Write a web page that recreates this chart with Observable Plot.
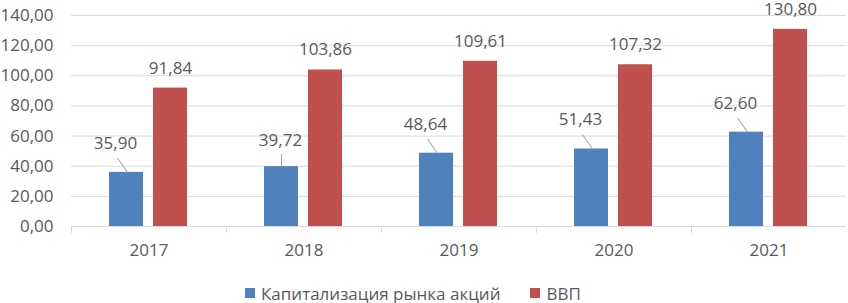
<!DOCTYPE html>
<html>
<head>
<meta charset="utf-8">
<script src="https://cdn.jsdelivr.net/npm/d3@7"></script>
<script src="https://cdn.jsdelivr.net/npm/@observablehq/plot@0.6"></script>
<style>
  html, body { margin: 0; padding: 0; background: #fff; }
  #chart { width: 848px; }
  .legend { display: flex; align-items: center; height: 24px; margin-top: 1px; padding-left: 245px;
            font-family: "Open Sans", sans-serif; font-size: 17px; color: #595959; }
  .legend .item { display: flex; align-items: center; margin-right: 30px; }
  .legend .sw { width: 10px; height: 10px; margin-right: 6px; }
</style>
</head>
<body>
<div id="chart"></div>
<script>
const years = ["2017", "2018", "2019", "2020", "2021"];
const capitalization = [35.90, 39.72, 48.64, 51.43, 62.60];
const gdp = [91.84, 103.86, 109.61, 107.32, 130.80];
const seriesNames = ["Капитализация рынка акций", "ВВП"];
const seriesColors = ["#4f81bd", "#c0504d"];
const yTicks = [0, 20, 40, 60, 80, 100, 120, 140];

const fmt = v => v.toFixed(2).replace(".", ",");

const data = years.flatMap((y, i) => [
  {year: y, series: seriesNames[0], value: capitalization[i]},
  {year: y, series: seriesNames[1], value: gdp[i]}
]);
const capData = data.filter(d => d.series === seriesNames[0]);
const gdpData = data.filter(d => d.series === seriesNames[1]);
const capMain = capData.filter(d => d.year !== "2018");
const capAlt = capData.filter(d => d.year === "2018");

const chart = Plot.plot({
  width: 848,
  height: 280,
  marginLeft: 70,
  marginRight: 1,
  marginTop: 15,
  marginBottom: 54,
  style: {fontFamily: "Open Sans, sans-serif", fontSize: "17px", color: "#595959", background: "#fff", overflow: "visible"},
  fx: {domain: years, padding: 0, axis: "bottom", label: null, tickSize: 0, tickPadding: 17},
  x: {domain: seriesNames, paddingInner: 0.222, paddingOuter: 0.836, axis: null},
  y: {domain: [0, 140], ticks: yTicks, tickFormat: fmt, tickSize: 0, tickPadding: 18, label: null},
  color: {domain: seriesNames, range: seriesColors},
  marks: [
    Plot.ruleY(yTicks, {stroke: "#d9d9d9", strokeWidth: 1}),
    Plot.vector(years, {fx: d => d, y: () => 0, frameAnchor: "left", length: 6, rotate: 180, anchor: "start", r: 0, stroke: "#d9d9d9", strokeWidth: 1}),
    Plot.barY(data, {fx: "year", x: "series", y: "value", fill: "series"}),
    Plot.text(gdpData, {fx: "year", x: "series", y: "value", text: d => fmt(d.value), dy: -20, fill: "#595959"}),
    Plot.vector(capMain, {fx: "year", x: "series", y: "value", length: 17, rotate: -35, anchor: "start", r: 0, dx: 1, stroke: "#a6a6a6", strokeWidth: 1}),
    Plot.text(capMain, {fx: "year", x: "series", y: "value", text: d => fmt(d.value), dx: -11, dy: -29, fill: "#595959"}),
    Plot.vector(capAlt, {fx: "year", x: "series", y: "value", length: 12, rotate: 0, anchor: "start", r: 0, stroke: "#a6a6a6", strokeWidth: 1}),
    Plot.text(capAlt, {fx: "year", x: "series", y: "value", text: d => fmt(d.value), dx: -1, dy: -26, fill: "#595959"})
  ]
});
document.getElementById("chart").appendChild(chart);

const legend = document.createElement("div");
legend.className = "legend";
seriesNames.forEach((name, i) => {
  const item = document.createElement("div");
  item.className = "item";
  const sw = document.createElement("span");
  sw.className = "sw";
  sw.style.background = seriesColors[i];
  const label = document.createElement("span");
  label.textContent = name;
  item.appendChild(sw);
  item.appendChild(label);
  legend.appendChild(item);
});
document.getElementById("chart").appendChild(legend);
</script>
</body>
</html>
